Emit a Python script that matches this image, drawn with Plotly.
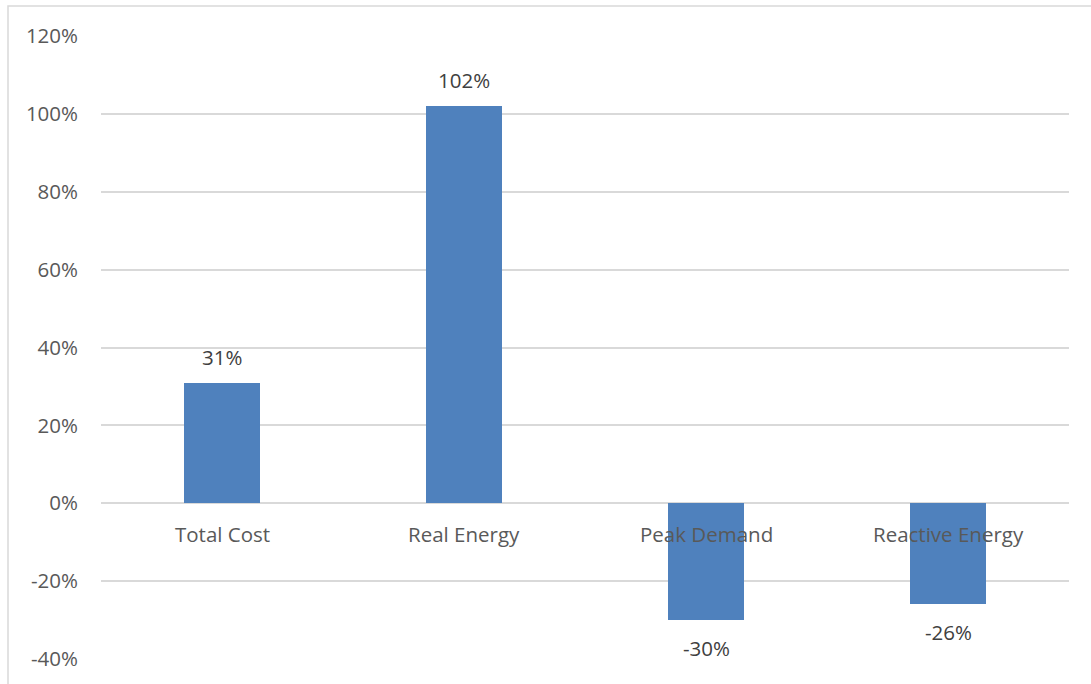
import plotly.graph_objects as go

# Percentage change per cost component
categories = ["Total Cost", "Real Energy", "Peak Demand", "Reactive Energy"]
changes = [0.31, 1.02, -0.30, -0.26]
tick_values = [-0.4, -0.2, 0.0, 0.2, 0.4, 0.6, 0.8, 1.0, 1.2]
tick_labels = ["-40%", "-20%", "0%", "20%", "40%", "60%", "80%", "100%", "120%"]

W, H = 1091, 684
ML, MR, MT, MB = 101, 22, 36, 25
FONT = "Open Sans"
FS = 20.5
BAR = "#4F81BD"
GRID = "#D9D9D9"
TEXT = "#595959"
LABEL = "#404040"

fig = go.Figure()
fig.add_trace(go.Bar(
    x=categories, y=changes, marker=dict(color=BAR, line=dict(width=0)),
    width=0.315, hoverinfo="skip",
))

annotations = []
# category names sit just under the zero line
for c in categories:
    annotations.append(dict(
        x=c, y=0, xref="x", yref="y", text=c, showarrow=False,
        yanchor="middle", yshift=-31,
        font=dict(family=FONT, size=FS, color=TEXT),
    ))
# value labels above positive bars, below negative bars
for c, v in zip(categories, changes):
    annotations.append(dict(
        x=c, y=v, xref="x", yref="y", text=f"{round(v * 100):d}%",
        showarrow=False, yanchor="middle",
        yshift=26 if v >= 0 else -28,
        font=dict(family=FONT, size=FS, color=LABEL),
    ))

plot_w = W - ML - MR
plot_h = H - MT - MB
# outer chart frame (light gray)
frame = dict(
    type="rect", xref="paper", yref="paper", layer="below",
    x0=(8 - ML) / plot_w, x1=(W + 5 - ML) / plot_w,
    y0=-(MB + 5) / plot_h, y1=(H - MB - 6) / plot_h,
    line=dict(color="#D9D9D9", width=1.5), fillcolor="rgba(0,0,0,0)",
)

fig.update_layout(
    width=W, height=H,
    margin=dict(l=ML, r=MR, t=MT, b=MB, pad=0),
    paper_bgcolor="white", plot_bgcolor="white",
    showlegend=False,
    bargap=0,
    annotations=annotations,
    shapes=[frame],
    xaxis=dict(showticklabels=False, showgrid=False, zeroline=False,
               showline=False, ticks="", fixedrange=True),
    yaxis=dict(range=[-0.4, 1.2], tickvals=tick_values, ticktext=tick_labels,
               showgrid=True, gridcolor=GRID, gridwidth=1.6,
               zeroline=True, zerolinecolor=GRID, zerolinewidth=1.6,
               showline=False, ticks="", ticklabelstandoff=22,
               tickfont=dict(family=FONT, size=FS, color=TEXT),
               fixedrange=True),
)

fig.write_html("out.html")
